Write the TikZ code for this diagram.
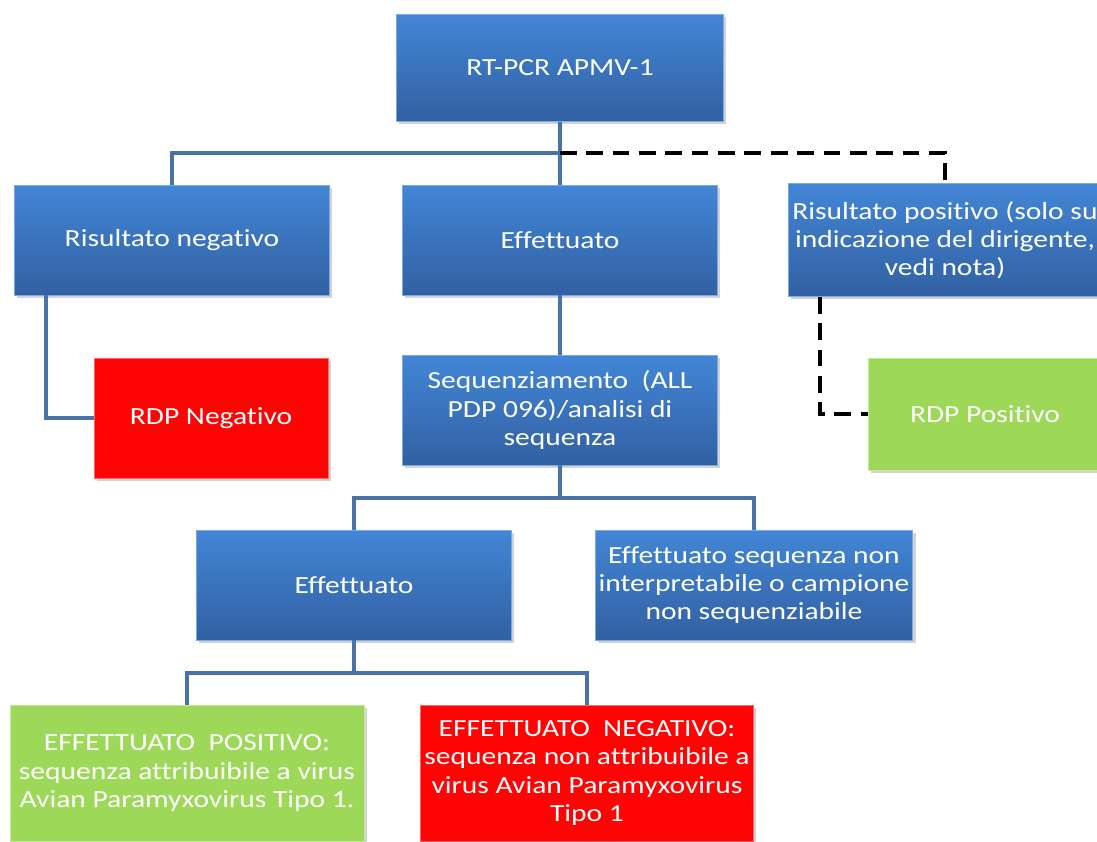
\documentclass[tikz,border=0pt]{standalone}
\usepackage{fontspec}
\setmainfont[FakeStretch=1.2,Ligatures=CommonOff]{Carlito}
\usetikzlibrary{shadows}
\definecolor{boxblue}{RGB}{66,134,214}
\definecolor{boxbluedark}{RGB}{50,96,162}
\definecolor{linkblue}{RGB}{72,114,168}
\definecolor{boxred}{RGB}{255,4,4}
\definecolor{boxgreen}{RGB}{158,216,88}
\tikzset{
  box/.style={rectangle,text=white,align=center,inner sep=2pt,
              font=\fontsize{14}{16}\selectfont,minimum width=6.3cm,minimum height=2.2cm,
              drop shadow={opacity=0.35,shadow xshift=1.5pt,shadow yshift=-1.5pt}},
  bluebox/.style={box,top color=boxblue,bottom color=boxbluedark,draw=boxblue!70!white,line width=0.5pt},
  redbox/.style={box,fill=boxred,draw=boxred!60!white,line width=0.5pt},
  greenbox/.style={box,fill=boxgreen,draw=boxgreen!60!white,line width=0.5pt},
  link/.style={line width=2.2pt,linkblue},
  dlink/.style={line width=2.2pt,black,dash pattern=on 9.5pt off 5.5pt}
}

\begin{document}
\begin{tikzpicture}[x=0.02cm,y=-0.02cm]
  \useasboundingbox (0,0) rectangle (1097,841);
  \clip (0,0) rectangle (1097,841);
  % top row
  \node[bluebox,minimum width=6.54cm,minimum height=2.14cm] (top) at (560,68) {RT-PCR APMV-1};
  \node[bluebox] (neg) at (172,240) {Risultato negativo};
  \node[bluebox] (eff) at (560,240) {Effettuato};
  \node[bluebox,minimum width=6.28cm,minimum height=2.26cm] (pos) at (945,240)
       {Risultato positivo (solo su\\indicazione del dirigente,\\vedi nota)};
  % second row
  \node[redbox,minimum width=4.68cm,minimum height=2.4cm] (rdpneg) at (211,418) {RDP Negativo};
  \node[bluebox] (seq) at (560,410) {Sequenziamento\ \ (ALL\\PDP 096)/analisi di\\sequenza};
  \node[greenbox,minimum width=4.68cm,minimum height=2.24cm] (rdppos) at (985,414) {RDP Positivo};
  % third row
  \node[bluebox] (eff2) at (354,585) {Effettuato};
  \node[bluebox] (nonint) at (754,585)
       {Effettuato sequenza non\\interpretabile o campione\\non sequenziabile};
  % bottom row
  \node[greenbox,minimum width=7.08cm,minimum height=2.72cm] (effpos) at (187,773)
       {EFFETTUATO\ \ POSITIVO:\\sequenza attribuibile a virus\\Avian Paramyxovirus Tipo 1.};
  \node[redbox,minimum width=6.66cm,minimum height=2.72cm] (effneg) at (587,773)
       {EFFETTUATO\ \ NEGATIVO:\\sequenza non attribuibile a\\virus Avian Paramyxovirus\\Tipo 1};
  % connectors
  \coordinate (j1) at (560,153);
  \coordinate (j2) at (560,498);
  \coordinate (j3) at (354,673);
  \draw[link] (top.south) -- (eff.north);
  \draw[link] (neg.north) |- (j1);
  \draw[dlink] (j1) -| (pos.north);
  \draw[link] ([xshift=0.64cm]neg.south west) |- (rdpneg.west);
  \draw[dlink] ([xshift=0.64cm]pos.south west) |- (rdppos.west);
  \draw[link] (eff.south) -- (seq.north);
  \draw[link] (seq.south) -- (j2);
  \draw[link] (eff2.north) |- (j2) -| (nonint.north);
  \draw[link] (eff2.south) -- (j3);
  \draw[link] (effpos.north) |- (j3) -| (effneg.north);
\end{tikzpicture}
\end{document}
